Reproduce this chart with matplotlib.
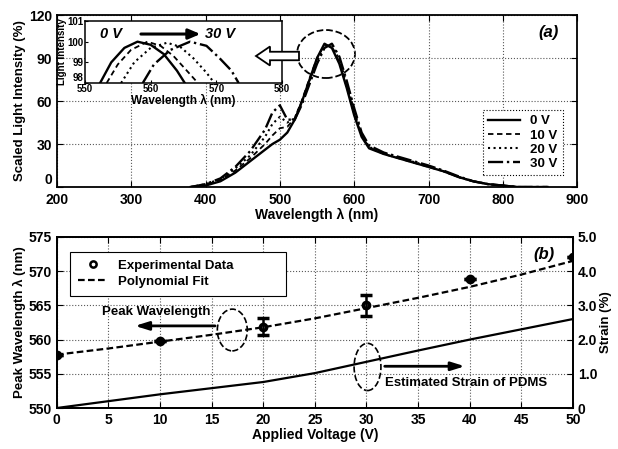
import matplotlib
matplotlib.use("Agg")
from matplotlib import pyplot as plt
from matplotlib.lines import Line2D
from matplotlib.patches import Ellipse, FancyArrow

plt.rcParams['font.family'] = ['Liberation Sans', 'DejaVu Sans']
plt.rcParams['font.weight'] = 'bold'
plt.rcParams['axes.labelweight'] = 'bold'

# ---- panel (a): spectra
wavelength = [380, 400, 420, 440, 460, 480, 490, 500, 510, 520, 530, 540, 550, 560, 570,
              580, 590, 600, 610, 620, 640, 660, 680, 700, 720, 740, 760, 780, 800, 820, 860]
spec_0v = [0, 1, 4, 10, 18, 26, 30, 33, 38, 47, 60, 75, 90, 100, 97,
           86, 69, 50, 35, 27, 23, 20, 17, 14, 11, 7, 4, 2, 1, 0, 0]
spec_10v = [0, 1.5, 5, 11.5, 20, 30, 36, 41, 42, 48, 61, 76, 90, 99, 98,
            87, 70, 51, 36, 27.5, 23, 20, 17, 14, 11, 7, 4, 2, 1, 0, 0]
spec_20v = [0, 2, 5.5, 13, 22, 35, 44, 49, 45, 48, 60, 74, 88, 98, 99,
            89, 72, 53, 37, 28, 23.5, 20.5, 17.5, 14.5, 11, 7, 4, 2, 1, 0, 0]
spec_30v = [0, 2, 6, 14, 25, 40, 52, 57, 47, 47, 58, 72, 86, 97, 100,
            91, 74, 55, 38, 29, 24, 21, 18, 15, 11.5, 7.5, 4, 2, 1, 0, 0]
spec_labels = ['0 V', '10 V', '20 V', '30 V']

# inset: zoom on the peaks
ins_x_0v = [552.3, 554, 556, 558, 560, 562, 564, 565.2]
ins_y_0v = [98, 99.0, 99.7, 100, 99.85, 99.4, 98.6, 98]
ins_x_10v = [553.3, 555, 557, 559.5, 561.5, 563.5, 565.5, 567.2]
ins_y_10v = [98, 98.9, 99.6, 100, 99.8, 99.3, 98.6, 98]
ins_x_20v = [555.5, 557.5, 560, 562.5, 564.5, 566.5, 568.5, 569.7]
ins_y_20v = [98, 99.0, 99.7, 99.95, 99.75, 99.2, 98.5, 98]
ins_x_30v = [558.8, 560.5, 563, 566, 568.5, 570.5, 572.3, 573.4]
ins_y_30v = [98, 98.9, 99.6, 100, 99.8, 99.2, 98.6, 98]

# ---- panel (b)
voltage = [0, 10, 20, 30, 40, 50]
peak_wl = [557.75, 559.8, 561.9, 565.0, 568.8, 572.0]
peak_err = [0, 0, 1.25, 1.5, 0, 0]
fit_v = [0, 5, 10, 15, 20, 25, 30, 35, 40, 45, 50]
fit_wl = [557.8, 558.7, 559.7, 560.7, 561.8, 563.1, 564.6, 566.1, 567.7, 569.5, 571.5]
strain = [0, 0.2, 0.4, 0.58, 0.76, 1.02, 1.35, 1.68, 2.0, 2.3, 2.6]

styles = [dict(ls='-', lw=1.7), dict(ls=(0, (3, 2)), lw=1.3),
          dict(ls=':', lw=1.5), dict(ls='-.', lw=1.7)]


def style_axes(ax):
    ax.tick_params(direction='in', top=True, right=True, labelsize=10, length=4)
    ax.grid(True, ls=':', color='0.35', lw=0.8)
    for s in ax.spines.values():
        s.set_linewidth(1.3)


fig = plt.figure(figsize=(6.18, 4.49), dpi=100)

# ---------------- top panel
ax1 = fig.add_axes([0.092, 0.5835, 0.842, 0.383])
for ys, lab, st in zip([spec_0v, spec_10v, spec_20v, spec_30v], spec_labels, styles):
    ax1.plot(wavelength, ys, color='black', label=lab, **st)
ax1.set_xlim(200, 900)
ax1.set_ylim(0, 120)
ax1.set_xticks(range(200, 901, 100))
ax1.set_yticks([0, 30, 60, 90, 120])
style_axes(ax1)
ax1.tick_params(axis='x', pad=4)
ax1.get_yticklabels()[0].set_va('bottom')
ax1.set_xlabel('Wavelength λ (nm)', fontsize=10, labelpad=1)
ax1.set_ylabel('Scaled Light Intensity (%)', fontsize=9.5, labelpad=2)
ax1.text(0.965, 0.9, '(a)', transform=ax1.transAxes, fontsize=12,
         fontstyle='italic', fontweight='bold', ha='right', va='center')
leg1 = ax1.legend(loc='lower right', bbox_to_anchor=(0.985, 0.03), fontsize=9.5,
                  handlelength=2.4, labelspacing=0.15, borderpad=0.4,
                  fancybox=False, edgecolor='black', framealpha=1)
leg1.get_frame().set_linewidth(0.8)
leg1.get_frame().set_linestyle(':')
ax1.add_patch(Ellipse((562, 92.8), 78, 33.5, fill=False, ls='--', lw=1.3,
                      color='black'))

# hollow arrow pointing from the peak to the inset
fig.add_artist(FancyArrow(2.99, 4.49 - 0.56, -0.43, 0, width=0.085,
                          head_width=0.19, head_length=0.14,
                          length_includes_head=True, facecolor='white',
                          edgecolor='black', lw=1.3,
                          transform=fig.dpi_scale_trans))

# inset
axi = fig.add_axes([0.1375, 0.8151, 0.3188, 0.1381])
for xs, ys, st in zip([ins_x_0v, ins_x_10v, ins_x_20v, ins_x_30v],
                      [ins_y_0v, ins_y_10v, ins_y_20v, ins_y_30v], styles):
    axi.plot(xs, ys, color='black', **st)
axi.set_xlim(550, 580)
axi.set_ylim(98, 101)
axi.set_xticks([550, 560, 570, 580])
axi.set_yticks([98, 99, 100, 101])
axi.tick_params(direction='in', labelsize=7, length=2, pad=1)
axi.get_yticklabels()[0].set_va('bottom')
for s in axi.spines.values():
    s.set_linewidth(1.1)
axi.set_xlabel('Wavelength λ (nm)', fontsize=8.5, labelpad=0)
axi.set_ylabel('Light Intensity', fontsize=7, labelpad=0)
axi.text(0.075, 0.79, '0 V', transform=axi.transAxes, fontsize=10.5,
         fontstyle='italic', fontweight='bold', va='center')
axi.text(0.61, 0.79, '30 V', transform=axi.transAxes, fontsize=10.5,
         fontstyle='italic', fontweight='bold', va='center')
axi.annotate('', xy=(0.6, 0.79), xytext=(0.27, 0.79), xycoords='axes fraction',
             arrowprops=dict(arrowstyle='-|>,head_width=0.3,head_length=0.7',
                             color='black', lw=2.2))

# ---------------- bottom panel
ax2 = fig.add_axes([0.092, 0.0913, 0.835, 0.381])
ax2.plot(fit_v, fit_wl, color='black', ls=(0, (3, 1.5)), lw=1.6)
ax2.errorbar(voltage, peak_wl, yerr=peak_err, fmt='o', color='black', mfc='none',
             mew=2.5, ms=4.5, capsize=4, elinewidth=1.8, capthick=1.8)
ax2.set_xlim(0, 50)
ax2.set_ylim(550, 575)
ax2.set_xticks(range(0, 51, 5))
ax2.set_yticks(range(550, 576, 5))
style_axes(ax2)
ax2.tick_params(right=False)
ax2.set_xlabel('Applied Voltage (V)', fontsize=10, labelpad=1)
ax2.set_ylabel('Peak Wavelength λ (nm)', fontsize=9.5, labelpad=2)
ax2.set_zorder(2)
ax2.patch.set_visible(False)

leg_handles = [Line2D([], [], ls='none', marker='o', color='black', mfc='none',
                      mew=1.8, ms=4.5),
               Line2D([], [], color='black', ls=(0, (3, 1.5)), lw=1.6)]
leg2 = ax2.legend(leg_handles, ['Experimental Data', 'Polynomial Fit'],
                  loc='upper left', bbox_to_anchor=(0.012, 0.953, 0.445, 0),
                  mode='expand', fontsize=9.5, handlelength=2.3, labelspacing=0.3,
                  borderpad=0.6, fancybox=False, edgecolor='black', framealpha=1)
leg2.get_frame().set_linewidth(0.8)

ax2.text(0.965, 0.9, '(b)', transform=ax2.transAxes, fontsize=12,
         fontstyle='italic', fontweight='bold', ha='right', va='center')
ax2.add_patch(Ellipse((17.0, 561.4), 2.9, 6.1, fill=False, ls='--', lw=1.2, color='black'))
ax2.add_patch(Ellipse((30.1, 556.0), 2.6, 6.9, fill=False, ls='--', lw=1.2, color='black'))
ax2.text(4.4, 564.0, 'Peak Wavelength', fontsize=9.5, va='center')
ax2.annotate('', xy=(7.3, 562.0), xytext=(15.6, 562.0),
             arrowprops=dict(arrowstyle='-|>,head_width=0.25,head_length=0.8',
                             color='black', lw=2))
ax2.text(31.8, 553.6, 'Estimated Strain of PDMS', fontsize=9.5, va='center')
ax2.annotate('', xy=(39.8, 556.1), xytext=(31.5, 556.1),
             arrowprops=dict(arrowstyle='-|>,head_width=0.25,head_length=0.8',
                             color='black', lw=2))

ax3 = ax2.twinx()
ax3.plot(fit_v, strain, color='black', lw=1.6)
ax3.set_ylim(0, 5)
ax3.set_yticks([0, 1, 2, 3, 4, 5])
ax3.set_yticklabels(['0', '1.0', '2.0', '3.0', '4.0', '5.0'])
ax3.tick_params(direction='in', labelsize=10, length=4)
ax3.set_ylabel('Strain (%)', fontsize=9.5, labelpad=2)
for s in ax3.spines.values():
    s.set_linewidth(1.3)

fig.savefig('out.png', dpi=100)
